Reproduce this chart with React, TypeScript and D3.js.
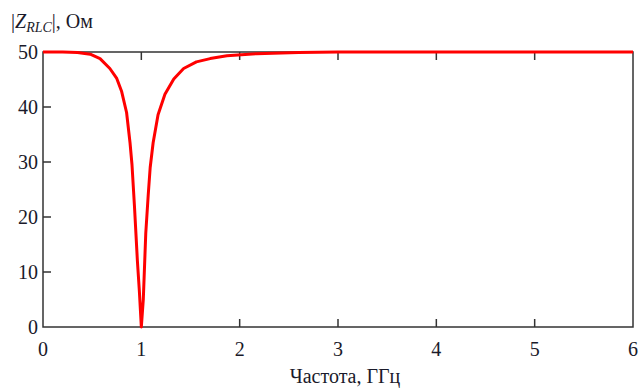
import { useEffect, useRef } from "react"
import * as d3 from "d3"

// frequency, GHz
const freq = [
  0, 0.2, 0.35, 0.48, 0.58, 0.68, 0.75, 0.8, 0.85, 0.885, 0.905, 0.93, 0.96, 0.98, 1.0,
  1.02, 1.045, 1.07, 1.09, 1.12, 1.17, 1.24, 1.33, 1.43, 1.56, 1.7, 1.87, 2.17, 2.6, 3.0, 4.0, 6.0,
]
// |Z_RLC|, Ohm
const zabs = [
  50, 50, 49.9, 49.6, 48.8, 47.0, 45.2, 42.8, 39.0, 33.5, 29.5, 22, 12, 6.5, 0,
  5, 17, 24, 29, 33.5, 38.6, 42.3, 45.1, 47.0, 48.2, 48.8, 49.3, 49.7, 49.9, 50, 50, 50,
]
const xTicks = [0, 1, 2, 3, 4, 5, 6]
const yTicks = [0, 10, 20, 30, 40, 50]

export default function App() {
  const svgRef = useRef<SVGSVGElement | null>(null)

  useEffect(() => {
    if (!svgRef.current) return
    const svg = d3.select(svgRef.current)
    svg.selectAll("*").remove()

    const left = 43
    const right = 633
    const top = 52
    const bottom = 327
    const axisColor = "#333"
    const textColor = "#1a1a2a"
    const font = "'Liberation Serif', 'Times New Roman', serif"

    const x = d3.scaleLinear().domain([0, 6]).range([left, right])
    const y = d3.scaleLinear().domain([0, 50]).range([bottom, top])

    // tick marks (inside the frame)
    const tickLen = 8
    const inner = xTicks.filter((t) => t > 0 && t < 6)
    svg
      .append("g")
      .selectAll("line")
      .data(inner)
      .enter()
      .append("line")
      .attr("x1", (d) => x(d))
      .attr("x2", (d) => x(d))
      .attr("y1", bottom)
      .attr("y2", bottom - tickLen)
      .attr("stroke", axisColor)
      .attr("stroke-width", 1.5)
    svg
      .append("g")
      .selectAll("line")
      .data(inner)
      .enter()
      .append("line")
      .attr("x1", (d) => x(d))
      .attr("x2", (d) => x(d))
      .attr("y1", top)
      .attr("y2", top + tickLen)
      .attr("stroke", axisColor)
      .attr("stroke-width", 1.5)
    svg
      .append("g")
      .selectAll("line")
      .data(yTicks.filter((t) => t > 0 && t < 50))
      .enter()
      .append("line")
      .attr("x1", left)
      .attr("x2", left + tickLen)
      .attr("y1", (d) => y(d))
      .attr("y2", (d) => y(d))
      .attr("stroke", axisColor)
      .attr("stroke-width", 1.5)

    // frame
    svg
      .append("rect")
      .attr("x", left)
      .attr("y", top)
      .attr("width", right - left)
      .attr("height", bottom - top)
      .attr("fill", "none")
      .attr("stroke", axisColor)
      .attr("stroke-width", 1.5)

    // curve
    const pts = freq.map((f, i) => [f, zabs[i]] as [number, number])
    const line = d3
      .line<[number, number]>()
      .x((d) => x(d[0]))
      .y((d) => y(d[1]))
    svg
      .append("path")
      .attr("d", line(pts))
      .attr("fill", "none")
      .attr("stroke", "#ff0000")
      .attr("stroke-width", 3)
      .attr("stroke-linejoin", "round")

    // tick labels
    svg
      .append("g")
      .selectAll("text")
      .data(xTicks)
      .enter()
      .append("text")
      .attr("x", (d) => x(d))
      .attr("y", 356)
      .attr("text-anchor", "middle")
      .attr("font-family", font)
      .attr("font-size", 20)
      .attr("fill", textColor)
      .text((d) => d)
    svg
      .append("g")
      .selectAll("text")
      .data(yTicks)
      .enter()
      .append("text")
      .attr("x", 38)
      .attr("y", (d) => y(d) + 7)
      .attr("text-anchor", "end")
      .attr("font-family", font)
      .attr("font-size", 20)
      .attr("fill", textColor)
      .text((d) => d)

    // axis titles
    const yt = svg
      .append("text")
      .attr("x", 11)
      .attr("y", 28)
      .attr("font-family", font)
      .attr("font-size", 20)
      .attr("fill", textColor)
    yt.append("tspan").text("|")
    yt.append("tspan").attr("font-style", "italic").text("Z")
    yt.append("tspan").attr("font-style", "italic").attr("font-size", 14).attr("dy", 4).text("RLC")
    yt.append("tspan").attr("dy", -4).text("|, Ом")

    svg
      .append("text")
      .attr("x", 345)
      .attr("y", 383)
      .attr("text-anchor", "middle")
      .attr("font-family", font)
      .attr("font-size", 20)
      .attr("fill", textColor)
      .text("Частота, ГГц")
  }, [])

  return (
    <svg
      ref={svgRef}
      width={641}
      height={389}
      style={{ position: "absolute", left: 0, top: 0, background: "#fff" }}
    ></svg>
  )
}
